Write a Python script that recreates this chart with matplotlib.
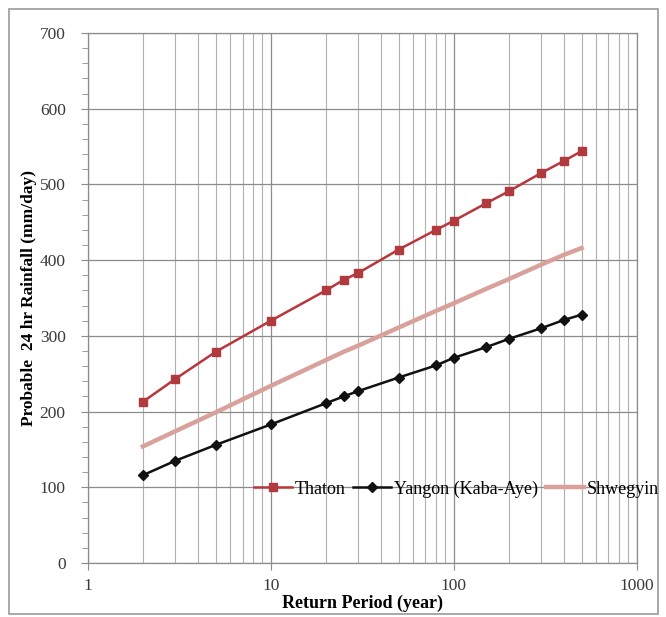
import matplotlib.pyplot as plt
from matplotlib.ticker import FixedLocator, MultipleLocator, NullFormatter
from matplotlib.patches import Rectangle

plt.rcParams['font.family'] = ['Liberation Serif', 'DejaVu Serif']

# return periods (year)
period = [2, 3, 5, 10, 20, 25, 30, 50, 80, 100, 150, 200, 300, 400, 500]

# probable 24 hr rainfall (mm/day)
thaton = [213, 243, 279, 320, 360, 374, 383, 414, 440, 452, 475, 491, 515, 531, 544]
yangon = [116, 135, 156, 183, 211, 220, 227, 245, 261, 271, 285, 296, 310, 321, 328]
shwegyin = [154, 174, 199, 234, 268, 279, 287, 311, 333, 343, 362, 375, 394, 407, 416]

fig = plt.figure(figsize=(6.66, 6.17), dpi=100)
ax = fig.add_axes([0.132, 0.0875, 0.824, 0.859])

ax.plot(period, thaton, color='#b8373c', lw=1.8, marker='s', ms=6,
        mfc='#b03a3e', mec='#b03a3e', label='Thaton', zorder=4)
ax.plot(period, yangon, color='#111111', lw=1.8, marker='D', ms=5,
        label='Yangon (Kaba-Aye)', zorder=4)
ax.plot(period, shwegyin, color='#d9a19c', lw=3.2, label='Shwegyin', zorder=3)

ax.set_xscale('log')
ax.set_xlim(1, 1000)
ax.set_ylim(0, 700)
ax.yaxis.set_major_locator(MultipleLocator(100))
ax.yaxis.set_minor_locator(MultipleLocator(20))
ax.xaxis.set_major_locator(FixedLocator([1, 10, 100, 1000]))
ax.set_xticklabels(['1', '10', '100', '1000'])
ax.xaxis.set_minor_formatter(NullFormatter())

ax.grid(which='major', axis='both', color='#8c8c8c', lw=0.9)
ax.grid(which='minor', axis='x', color='#b0b0b0', lw=0.8)
ax.set_axisbelow(True)

for s in ax.spines.values():
    s.set_color('#8c8c8c')
    s.set_linewidth(0.9)

ax.tick_params(which='major', axis='both', direction='out', length=5,
               color='#8c8c8c', labelsize=12.5, labelcolor='#3a3a3a')
ax.tick_params(which='minor', axis='y', direction='out', length=4, color='#8c8c8c')
ax.tick_params(which='minor', axis='x', length=0)
ax.tick_params(axis='y', pad=11)
ax.tick_params(axis='x', pad=6)

ax.set_xlabel('Return Period (year)', fontsize=13, fontweight='bold', labelpad=0)
ax.set_ylabel('Probable  24 hr Rainfall (mm/day)', fontsize=12.5, fontweight='bold', labelpad=2)

fig.legend(loc='center left', bbox_to_anchor=(0.381, 0.2075), ncol=3, frameon=False,
           fontsize=13, handlelength=2.1, handletextpad=0.15, columnspacing=0.45,
           borderpad=0, borderaxespad=0)

# outer frame
fig.patches.append(Rectangle((0.013, 0.005), 0.975, 0.98, transform=fig.transFigure,
                             fill=False, ec='#999999', lw=1.2))

fig.savefig('out.png', dpi=100)
